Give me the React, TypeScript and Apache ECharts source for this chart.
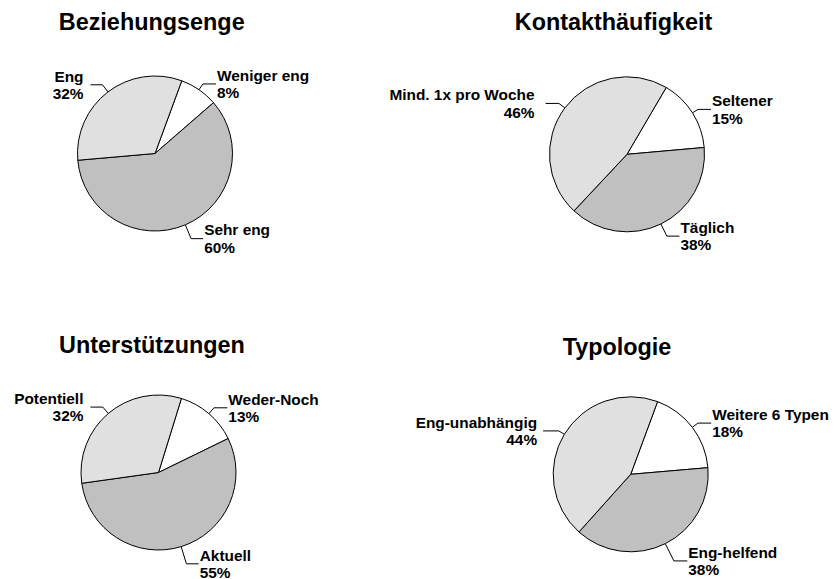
import React, { useEffect, useRef } from "react";
import * as echarts from "echarts";

// ---- Data ----
const titles = ["Beziehungsenge", "Kontakthäufigkeit", "Unterstützungen", "Typologie"];

const beziehungCategories = ["Weniger eng", "Sehr eng", "Eng"];
const beziehungValues = [8, 60, 32];

const kontaktCategories = ["Seltener", "Täglich", "Mind. 1x pro Woche"];
const kontaktValues = [15, 38, 46];

const unterstuetzungCategories = ["Weder-Noch", "Aktuell", "Potentiell"];
const unterstuetzungValues = [13, 55, 32];

const typologieCategories = ["Weitere 6 Typen", "Eng-helfend", "Eng-unabhängig"];
const typologieValues = [18, 38, 44];

// ---- Style / layout ----
const sliceColors = ["#FFFFFF", "#C0C0C0", "#E0E0E0"];
const FONT = "'Liberation Sans', Arial, Helvetica, sans-serif";

type PieLayout = {
  center: [number, number];
  radius: number;
  startAngle: number;
  len1: number[];
  len2: number[];
  gap: number[];
  titleX: number;
  titleTop: number;
};

const layouts: PieLayout[] = [
  { center: [155, 153.5], radius: 77.5, startAngle: 69.8, len1: [7, 15, 9], len2: [13, 12, 12], gap: [1, 1, 7], titleX: 151.7, titleTop: 10.2 },
  { center: [627, 154.3], radius: 77.5, startAngle: 59.6, len1: [6.5, 13.5, 7.5], len2: [13, 12.6, 13.4], gap: [1, 1, 11], titleX: 613.5, titleTop: 10.2 },
  { center: [158.5, 472.5], radius: 77.5, startAngle: 72.8, len1: [7.7, 18, 8.4], len2: [13.4, 12.3, 12.4], gap: [1, 1, 7], titleX: 152, titleTop: 333.2 },
  { center: [630.7, 474.3], radius: 77.5, startAngle: 69.7, len1: [7, 19.3, 6.5], len2: [13.3, 13.4, 15.7], gap: [1, 1, 6], titleX: 617, titleTop: 335.2 },
];

const pieData: { cats: string[]; vals: number[] }[] = [
  { cats: beziehungCategories, vals: beziehungValues },
  { cats: kontaktCategories, vals: kontaktValues },
  { cats: unterstuetzungCategories, vals: unterstuetzungValues },
  { cats: typologieCategories, vals: typologieValues },
];

export default function App() {
  const ref = useRef<HTMLDivElement>(null);

  useEffect(() => {
    if (!ref.current) return;
    const chart = echarts.init(ref.current, undefined, { renderer: "svg" });

    const series = pieData.map((pd, i) => {
      const L = layouts[i];
      return {
        type: "pie",
        left: 0,
        top: 0,
        width: 1000,
        height: 800,
        center: L.center,
        radius: L.radius,
        startAngle: L.startAngle,
        clockwise: true,
        avoidLabelOverlap: false,
        silent: true,
        itemStyle: { borderColor: "#000000", borderWidth: 1 },
        label: {
          show: true,
          position: "outside",
          formatter: "{b}\n{c}%",
          fontFamily: FONT,
          fontWeight: "bold",
          fontSize: 15.4,
          lineHeight: 17.5,
          color: "#000000",
          bleedMargin: 0,
          overflow: "none",
        },
        labelLine: {
          show: true,
          smooth: false,
          lineStyle: { color: "#000000", width: 1 },
        },
        data: pd.cats.map((c, j) => ({
          name: c,
          value: pd.vals[j],
          itemStyle: { color: sliceColors[j] },
          label: { distanceToLabelLine: L.gap[j] },
          labelLine: { length: L.len1[j], length2: L.len2[j] },
        })),
      };
    });

    chart.setOption({
      animation: false,
      backgroundColor: "#FFFFFF",
      title: titles.map((t, i) => ({
        text: t,
        left: layouts[i].titleX,
        top: layouts[i].titleTop,
        textAlign: "center",
        padding: 0,
        textStyle: {
          fontFamily: FONT,
          fontWeight: "bold",
          fontSize: 23.4,
          color: "#000000",
        },
      })),
      series,
    });

    return () => chart.dispose();
  }, []);

  return (
    <div
      ref={ref}
      style={{ position: "fixed", left: 0, top: 0, width: 834, height: 579 }}
    />
  );
}
